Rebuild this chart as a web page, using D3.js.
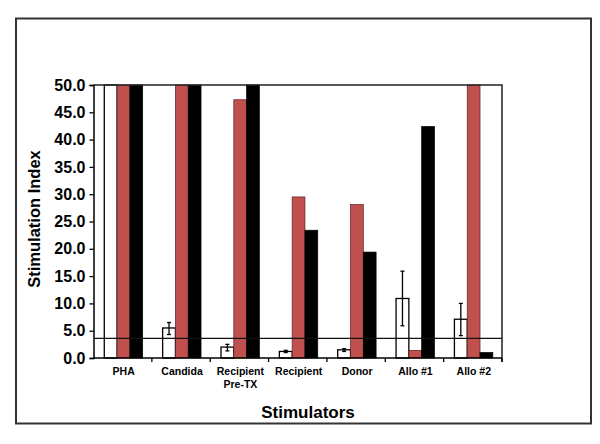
<!DOCTYPE html>
<html>
<head>
<meta charset="utf-8">
<script src="https://cdn.jsdelivr.net/npm/d3@7"></script>
<style>
  body { margin: 0; background: #fff; }
  svg text { font-family: "Liberation Sans", Arial, sans-serif; font-weight: bold; fill: #000; }
</style>
</head>
<body>
<script>
// categories (second line of label where the original wraps)
var categories = ["PHA", "Candida", "Recipient Pre-TX", "Recipient", "Donor", "Allo #1", "Allo #2"];
var labelLines = [["PHA"], ["Candida"], ["Recipient", "Pre-TX"], ["Recipient"], ["Donor"], ["Allo #1"], ["Allo #2"]];
var series = ["white", "red", "black"];

// bars that run off the top are stored at 50 (axis max)
var whiteValues = [50, 5.5, 2.0, 1.2, 1.5, 10.9, 7.1];
var whiteErrLow = [null, 4.3, 1.3, 1.0, 1.2, 5.9, 4.1];
var whiteErrHigh = [null, 6.5, 2.5, 1.4, 1.7, 15.9, 10.0];
var redValues = [50, 50, 47.3, 29.5, 28.1, 1.4, 50];
var blackValues = [50, 50, 50, 23.4, 19.4, 42.4, 1.0];
var threshold = 3.6;
var yTicks = [0, 5, 10, 15, 20, 25, 30, 35, 40, 45, 50];

var width = 600, height = 444;
var plotLeft = 93.5, plotRight = 502, plotTop = 85, plotBottom = 358;

var svg = d3.select("body").append("svg")
  .attr("width", width)
  .attr("height", height);

// outer frame
svg.append("rect")
  .attr("x", 16).attr("y", 18.5)
  .attr("width", 575).attr("height", 405)
  .attr("fill", "none")
  .attr("stroke", "#333")
  .attr("stroke-width", 2);

var y = d3.scaleLinear().domain([0, 50]).range([plotBottom, plotTop]).clamp(true);
var x = d3.scaleBand().domain(categories).range([plotLeft, plotRight]).padding(0);
var barW = 12.8;
var x1 = d3.scaleBand().domain(series).range([0, barW * 3]);
var groupOffset = (x.bandwidth() - barW * 3) / 2 + 0.8;

var colors = { white: "#ffffff", red: "#c0504d", black: "#000000" };
var valuesBySeries = { white: whiteValues, red: redValues, black: blackValues };

//------- BARS -------
var groups = svg.append("g").selectAll("g")
  .data(categories)
  .enter().append("g")
  .attr("transform", function (d) { return "translate(" + (x(d) + groupOffset) + ",0)"; });

groups.selectAll("rect")
  .data(function (d, i) {
    return series.map(function (s) { return { s: s, v: valuesBySeries[s][i] }; });
  })
  .enter().append("rect")
  .attr("x", function (d) { return x1(d.s); })
  .attr("y", function (d) { return y(d.v); })
  .attr("width", x1.bandwidth())
  .attr("height", function (d) { return y(0) - y(d.v); })
  .attr("fill", function (d) { return colors[d.s]; })
  .attr("stroke", function (d) { return d.s == "red" ? "#5a2020" : "#000"; })
  .attr("stroke-width", function (d) { return d.s == "white" ? 1.3 : 0.7; });

//------- ERROR BARS -------
var err = svg.append("g").attr("stroke", "#000").attr("stroke-width", 1.3);
categories.forEach(function (c, i) {
  if (whiteErrLow[i] == null) return;
  var cx = x(c) + groupOffset + x1("white") + x1.bandwidth() / 2;
  err.append("line")
    .attr("x1", cx).attr("x2", cx)
    .attr("y1", y(whiteErrLow[i])).attr("y2", y(whiteErrHigh[i]));
  [whiteErrLow[i], whiteErrHigh[i]].forEach(function (v) {
    err.append("line")
      .attr("x1", cx - 2).attr("x2", cx + 2)
      .attr("y1", y(v)).attr("y2", y(v));
  });
});

//------- THRESHOLD LINE -------
svg.append("line")
  .attr("x1", plotLeft).attr("x2", plotRight)
  .attr("y1", y(threshold)).attr("y2", y(threshold))
  .attr("stroke", "#111")
  .attr("stroke-width", 1.3);

//------- PLOT BORDER (top, right) -------
svg.append("path")
  .attr("d", "M" + plotLeft + "," + plotTop + "H" + plotRight + "V" + (plotBottom + 4))
  .attr("fill", "none")
  .attr("stroke", "#222")
  .attr("stroke-width", 1.5);

//------- Y AXIS -------
var yAxis = svg.append("g")
  .attr("transform", "translate(" + plotLeft + ",0)")
  .call(d3.axisLeft(y).tickValues(yTicks).tickSize(4).tickPadding(4)
    .tickFormat(function (d) { return d3.format(".1f")(d); }));
yAxis.select(".domain").attr("stroke", "#000").attr("stroke-width", 1.5);
yAxis.selectAll(".tick line").attr("stroke", "#000").attr("stroke-width", 1.3);
yAxis.selectAll(".tick text")
  .attr("font-size", 16)
  .attr("font-family", "Liberation Sans, Arial, sans-serif")
  .attr("font-weight", "bold")
  .attr("fill", "#000");

//------- X AXIS -------
svg.append("line")
  .attr("x1", plotLeft).attr("x2", plotRight)
  .attr("y1", plotBottom).attr("y2", plotBottom)
  .attr("stroke", "#000").attr("stroke-width", 1.5);

svg.append("g").selectAll("line")
  .data(categories)
  .enter().append("line")
  .attr("x1", function (d) { return x(d) + x.bandwidth(); })
  .attr("x2", function (d) { return x(d) + x.bandwidth(); })
  .attr("y1", plotBottom).attr("y2", plotBottom + 4)
  .attr("stroke", "#000").attr("stroke-width", 1.3);

var catLabels = svg.append("g").selectAll("text")
  .data(categories)
  .enter().append("text")
  .attr("x", function (d) { return x(d) + x.bandwidth() / 2 + 1; })
  .attr("y", 375)
  .attr("text-anchor", "middle")
  .attr("font-size", 10.5);

catLabels.each(function (d, i) {
  var t = d3.select(this);
  labelLines[i].forEach(function (line, k) {
    t.append("tspan")
      .attr("x", t.attr("x"))
      .attr("dy", k == 0 ? 0 : 13)
      .text(line);
  });
});

//------- AXIS TITLES -------
svg.append("text")
  .attr("transform", "translate(40,219) rotate(-90)")
  .attr("text-anchor", "middle")
  .attr("font-size", 16.5)
  .text("Stimulation Index");

svg.append("text")
  .attr("x", 308)
  .attr("y", 418)
  .attr("text-anchor", "middle")
  .attr("font-size", 17)
  .text("Stimulators");
</script>
</body>
</html>
